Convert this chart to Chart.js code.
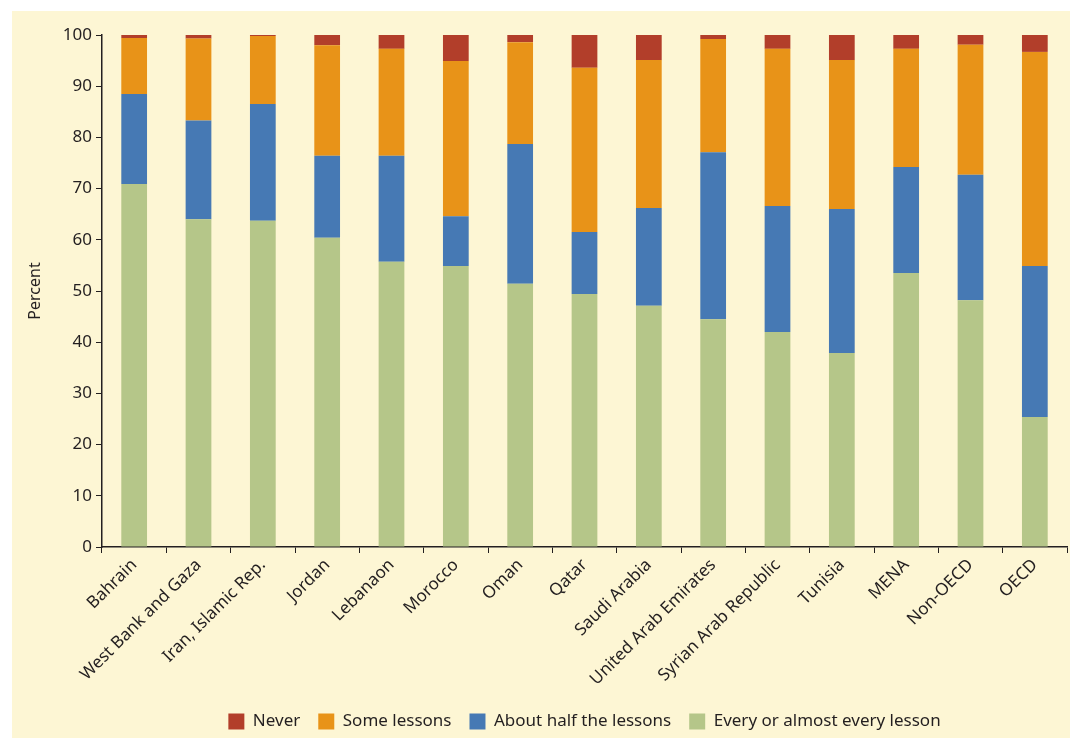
<html>
<head>
<script src="https://cdn.jsdelivr.net/npm/chart.js@4/dist/chart.umd.min.js"></script>
<style>
  body { margin: 0; background: #ffffff; }
  #wrap { width: 1070px; height: 740px; position: relative; }
</style>
</head>
<body>
<div id="wrap"><canvas id="lessons"></canvas></div>

<script>
var countries = ['Bahrain', 'West Bank and Gaza', 'Iran, Islamic Rep.', 'Jordan', 'Lebanaon', 'Morocco', 'Oman',
  'Qatar', 'Saudi Arabia', 'United Arab Emirates', 'Syrian Arab Republic', 'Tunisia', 'MENA', 'Non-OECD', 'OECD'];
var everyLesson = [70.9, 64.0, 63.7, 60.4, 55.7, 54.9, 51.4, 49.4, 47.1, 44.5, 42.0, 37.9, 53.5, 48.2, 25.4];
var aboutHalf   = [17.6, 19.3, 22.8, 16.0, 20.7, 9.7, 27.3, 12.1, 19.1, 32.6, 24.6, 28.1, 20.7, 24.5, 29.5];
var someLessons = [10.9, 16.0, 13.3, 21.6, 20.9, 30.3, 19.9, 32.1, 28.9, 22.1, 30.7, 29.1, 23.1, 25.4, 41.8];
var never       = [0.6, 0.7, 0.2, 2.0, 2.7, 5.1, 1.4, 6.4, 4.9, 0.8, 2.7, 4.9, 2.7, 1.9, 3.3];
var yTicks = [0, 10, 20, 30, 40, 50, 60, 70, 80, 90, 100];

var ink = '#231f20';
var font = 'Noto Sans';

var backdrop = {
  id: 'backdrop',
  beforeDraw: function(chart) {
    var ctx = chart.ctx;
    ctx.save();
    ctx.fillStyle = '#fdf6d4';
    ctx.fillRect(12, 11, chart.width - 12, chart.height - 13);
    ctx.restore();
  },
  // centre the legend under the plot area rather than the whole canvas
  afterLayout: function(chart) {
    chart.legend.left = chart.chartArea.left;
    chart.legend.right = chart.chartArea.right;
  }
};

new Chart(document.getElementById('lessons'), {
  type: 'bar',
  data: {
    labels: countries,
    datasets: [
      { label: 'Every or almost every lesson', data: everyLesson, backgroundColor: '#b5c689' },
      { label: 'About half the lessons', data: aboutHalf, backgroundColor: '#4679b4' },
      { label: 'Some lessons', data: someLessons, backgroundColor: '#e89318' },
      { label: 'Never', data: never, backgroundColor: '#b23e2a' }
    ]
  },
  options: {
    responsive: true,
    maintainAspectRatio: false,
    animation: false,
    layout: { padding: { left: 12, top: 35, right: 3, bottom: 0 } },
    datasets: { bar: { barPercentage: 0.8, categoryPercentage: 0.5, borderWidth: 0 } },
    plugins: {
      tooltip: { enabled: false },
      legend: {
        position: 'bottom',
        reverse: true,
        labels: {
          color: ink,
          font: { family: font, size: 17 },
          boxWidth: 16,
          boxHeight: 16,
          padding: 18
        }
      }
    },
    scales: {
      x: {
        stacked: true,
        grid: { drawOnChartArea: false, drawTicks: true, tickLength: 6, color: ink, offset: true },
        border: { color: ink, width: 1.5 },
        ticks: { color: ink, font: { family: font, size: 17 }, minRotation: 45, maxRotation: 45, autoSkip: false, padding: 2 },
        afterFit: function(scale) { scale.height = 148; }
      },
      y: {
        stacked: true,
        min: 0,
        max: 100,
        afterBuildTicks: function(scale) { scale.ticks = yTicks.map(function(v) { return { value: v }; }); },
        grid: { drawOnChartArea: false, drawTicks: true, tickLength: 6, color: ink },
        border: { color: ink, width: 1.5 },
        ticks: { color: ink, font: { family: font, size: 17 }, padding: 4 },
        title: { display: true, text: 'Percent', color: ink, font: { family: font, size: 16 }, padding: { top: 14, bottom: 8 } },
        afterFit: function(scale) { scale.width = 90; }
      }
    }
  },
  plugins: [backdrop]
});
</script>
</body>
</html>
